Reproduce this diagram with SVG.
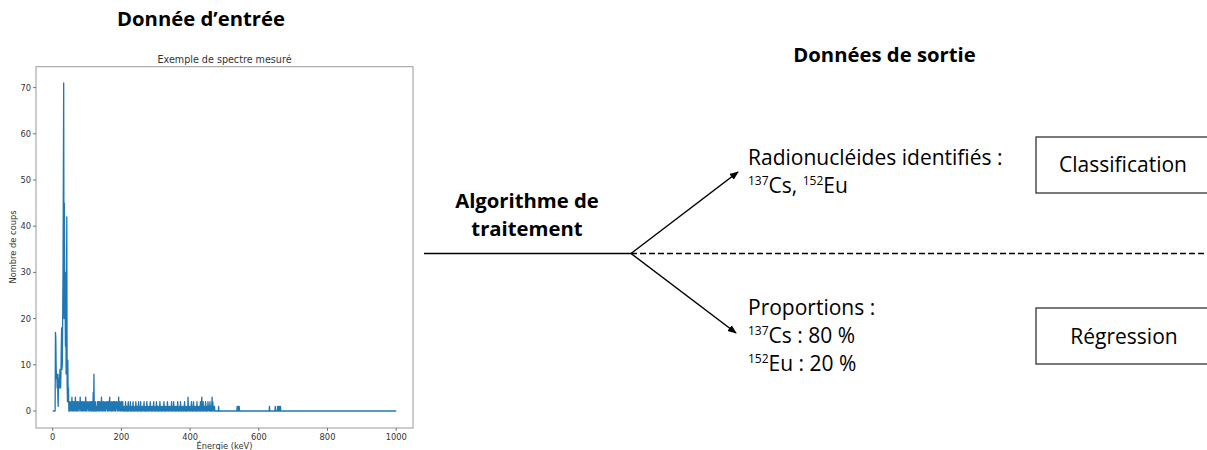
<svg xmlns="http://www.w3.org/2000/svg" width="1207" height="450" viewBox="0 0 1207 450">
<style>
.t{font-family:"Open Sans","Noto Sans",sans-serif;fill:#000}
.b{font-weight:bold;font-size:20.3px}
.r{font-size:21px}
.sup{font-size:12px}
.c{font-family:"DejaVu Sans",sans-serif;fill:#333;font-size:8.3px}
.ct{font-size:9.6px}
.ax{stroke:#999;stroke-width:1;fill:none}
.tk{stroke:#555;stroke-width:0.8}
.ln{stroke:#000;stroke-width:1.5;fill:none}
.box{fill:#fff;stroke:#333;stroke-width:1.3}
</style>
<defs>
<marker id="ah" viewBox="0 0 10 10" refX="9" refY="5" markerWidth="6" markerHeight="6" orient="auto" markerUnits="strokeWidth">
<path d="M0,1 L10,5 L0,9 z" fill="#000"/>
</marker>
</defs>
<rect width="1207" height="450" fill="#fff"/>

<g id="input-title"><text class="t b" x="201" y="26" text-anchor="middle">Donnée d’entrée</text></g>

<g id="chart">
<text class="c ct" x="224.5" y="63" text-anchor="middle">Exemple de spectre mesuré</text>
<rect class="ax" x="36" y="66.7" width="377" height="361.3"/>
<g class="tk">
<line x1="33" y1="411" x2="36" y2="411"/><line x1="33" y1="364.8" x2="36" y2="364.8"/><line x1="33" y1="318.6" x2="36" y2="318.6"/><line x1="33" y1="272.4" x2="36" y2="272.4"/><line x1="33" y1="226.2" x2="36" y2="226.2"/><line x1="33" y1="180" x2="36" y2="180"/><line x1="33" y1="133.8" x2="36" y2="133.8"/><line x1="33" y1="87.6" x2="36" y2="87.6"/>
<line x1="52.7" y1="428" x2="52.7" y2="431"/><line x1="121.4" y1="428" x2="121.4" y2="431"/><line x1="190.1" y1="428" x2="190.1" y2="431"/><line x1="258.8" y1="428" x2="258.8" y2="431"/><line x1="327.5" y1="428" x2="327.5" y2="431"/><line x1="396.2" y1="428" x2="396.2" y2="431"/>
</g>
<g class="c" text-anchor="end">
<text x="31" y="414">0</text><text x="31" y="367.8">10</text><text x="31" y="321.6">20</text><text x="31" y="275.4">30</text><text x="31" y="229.2">40</text><text x="31" y="183">50</text><text x="31" y="136.8">60</text><text x="31" y="90.6">70</text>
</g>
<g class="c" text-anchor="middle">
<text x="52.7" y="440">0</text><text x="121.4" y="440">200</text><text x="190.1" y="440">400</text><text x="258.8" y="440">600</text><text x="327.5" y="440">800</text><text x="396.2" y="440">1000</text>
<text x="224.5" y="448.5">Énergie (keV)</text>
<text transform="translate(16,247) rotate(-90)">Nombre de coups</text>
</g>
<path transform="translate(52.7,411) scale(0.3435,-4.62)" fill="none" stroke="#1f77b4" stroke-width="1.3" vector-effect="non-scaling-stroke" stroke-linejoin="round" d="M0,0 L7,0 8,17 9,16 10,10 11,7 12,8 13,5 14,8 15,3 16,1 17,7 18,5 19,8 20,5 21,9 22,6 23,5 24,8 25,14 26,18 27,9 28,10 29,20 30,30 31,50 32,71 33,20 34,45 35,26 36,26 37,14 38,30 39,8 40,20 41,42 42,6 43,2 44,11 45,3 46,5 47,0 48,2 49,0 50,2 51,1 52,1 53,0 54,2 55,1 56,3 57,0 58,1 59,2 60,2 61,0 62,2 63,1 64,1 65,0 66,3 67,1 68,2 69,0 70,1 71,2 72,2 73,0 74,0 75,1 76,2 77,1 78,1 79,0 80,3 81,1 82,2 83,0 84,1 85,2 86,2 87,0 88,2 89,1 90,1 91,0 92,2 93,1 94,1 95,0 96,3 97,1 98,2 99,0 100,0 101,1 102,2 103,1 104,1 105,0 106,2 107,1 108,1 109,0 110,2 111,1 112,2 113,0 114,1 115,2 116,2 117,0 118,4 119,0 120,8 121,0 122,1 123,2 124,2 125,0 126,0 127,1 128,1 129,0 130,2 131,1 132,2 133,0 134,1 135,2 136,2 137,0 138,1 139,1 140,2 141,0 142,3 143,1 144,2 145,0 146,1 147,2 148,2 149,0 150,1 151,1 152,2 153,0 154,0 155,1 156,2 157,1 158,1 159,0 160,2 161,1 162,2 163,0 164,1 165,2 166,3 167,0 168,2 169,1 170,1 171,0 172,2 173,1 174,1 175,0 176,2 177,1 178,2 179,0 180,1 181,2 182,2 183,0 184,0 185,1 186,2 187,1 188,1 189,0 190,2 191,1 192,3 193,0 194,1 195,2 196,2 197,0 198,1 199,1 200,2 201,0 202,1 203,1 204,2 205,0 206,1 207,0 208,0 209,1 210,1 211,0 212,2 213,1 214,1 215,0 216,1 217,0 218,0 219,1 220,2 221,0 222,1 223,1 224,1 225,0 226,2 227,0 228,0 229,1 230,1 231,0 232,1 233,1 234,2 235,0 236,1 237,0 238,0 239,1 240,1 241,0 242,2 243,1 244,1 245,0 246,1 247,0 248,0 249,1 250,2 251,0 252,1 253,1 254,1 255,0 256,2 257,0 258,1 259,0 260,0 261,1 262,1 263,0 264,1 265,1 266,2 267,0 268,1 269,0 270,0 271,1 272,1 273,0 274,2 275,1 276,1 277,0 278,1 279,0 280,0 281,1 282,1 283,0 284,2 285,1 286,1 287,0 288,0 289,1 290,1 291,0 292,1 293,1 294,2 295,0 296,1 297,0 298,0 299,1 300,1 301,0 302,2 303,1 304,1 305,0 306,1 307,0 308,0 309,1 310,1 311,0 312,2 313,1 314,1 315,0 316,1 317,0 318,0 319,1 320,1 321,0 322,1 323,1 324,2 325,0 326,1 327,0 328,1 329,0 330,0 331,1 332,1 333,0 334,2 335,1 336,1 337,0 338,0 339,1 340,1 341,0 342,1 343,1 344,1 345,0 346,2 347,0 348,0 349,1 350,1 351,0 352,2 353,1 354,1 355,0 356,1 357,0 358,0 359,1 360,1 361,0 362,1 363,1 364,2 365,0 366,1 367,0 368,0 369,1 370,1 371,0 372,2 373,1 374,1 375,0 376,0 377,1 378,1 379,0 380,1 381,0 382,1 383,1 384,2 385,0 386,1 387,0 388,1 389,0 390,0 391,1 392,1 393,0 394,3 395,1 396,1 397,0 398,0 399,1 400,1 401,0 402,1 403,1 404,2 405,0 406,1 407,0 408,0 409,1 410,2 411,0 412,1 413,1 414,1 415,0 416,0 417,1 418,1 419,0 420,2 421,0 422,1 423,1 424,1 425,0 426,0 427,1 428,1 429,0 430,2 431,0 432,1 433,1 434,3 435,0 436,1 437,0 438,2 439,0 440,1 441,1 442,1 443,0 444,0 445,2 446,1 447,0 448,0 449,1 450,1 451,0 452,2 453,1 454,1 455,0 456,0 457,1 458,2 459,0 460,1 461,1 462,0 463,1 464,3 465,0 466,2 467,1 468,1 469,0 470,0 471,1 472,0 482,0 483,1 484,0 536,0 537,1 538,0 539,1 540,0 541,1 542,0 543,1 544,0 630,0 631,1 632,0 647,0 648,1 649,0 654,0 655,1 656,0 657,1 658,0 659,1 660,0 661,1 662,0 663,1 664,0 1000,0"/>
</g>

<g id="connectors">
<line class="ln" x1="424" y1="253.5" x2="631" y2="253.5"/>
<line x1="631" y1="253.5" x2="1207" y2="253.5" stroke="#000" stroke-width="1.3" stroke-dasharray="6,3"/>
<line class="ln" x1="631" y1="253.5" x2="738" y2="172" marker-end="url(#ah)"/>
<line class="ln" x1="631" y1="253.5" x2="736" y2="333" marker-end="url(#ah)"/>
</g>

<g id="algorithm">
<text class="t b" x="527" y="208" text-anchor="middle">Algorithme de</text>
<text class="t b" x="527" y="236" text-anchor="middle">traitement</text>
</g>

<g id="output-title"><text class="t b" x="884.5" y="62" text-anchor="middle">Données de sortie</text></g>

<g id="identified">
<text class="t r" x="748" y="165">Radionucléides identifiés :</text>
<text class="t r" x="748" y="193"><tspan class="sup" dy="-8">137</tspan><tspan dy="8">Cs, </tspan><tspan class="sup" dy="-8">152</tspan><tspan dy="8">Eu</tspan></text>
</g>

<g id="proportions">
<text class="t r" x="748" y="315">Proportions :</text>
<text class="t r" x="748" y="343"><tspan class="sup" dy="-8">137</tspan><tspan dy="8">Cs : 80 %</tspan></text>
<text class="t r" x="748" y="371"><tspan class="sup" dy="-8">152</tspan><tspan dy="8">Eu : 20 %</tspan></text>
</g>

<g id="classification">
<rect class="box" x="1036" y="137" width="180" height="56"/>
<text class="t r" x="1123" y="172" text-anchor="middle">Classification</text>
</g>

<g id="regression">
<rect class="box" x="1036" y="308" width="180" height="56"/>
<text class="t r" x="1124" y="344" text-anchor="middle">Régression</text>
</g>
</svg>
